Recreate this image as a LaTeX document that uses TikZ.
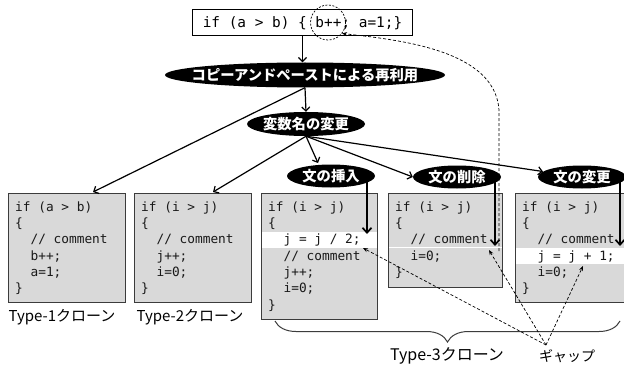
\documentclass[tikz,border=0pt]{standalone}
\usepackage{fontspec}
\setmainfont{Noto Sans CJK JP}
\setmonofont{DejaVu Sans Mono}
\usetikzlibrary{arrows.meta,shapes.geometric,decorations.pathreplacing,calc}
\definecolor{boxgray}{HTML}{D9D9D9}
\definecolor{boxedge}{HTML}{3C3C3C}
\newcommand{\ctext}[1]{\makebox[0pt]{\raisebox{-0.38em}[0pt][0pt]{#1}}}
\newcommand{\fl}{\rule{0pt}{10pt}}
\newcommand{\ii}{\hspace*{15.4pt}}
\tikzset{
  bub/.style={ellipse, fill=black, text=white, inner sep=0pt,
    font=\bfseries\fontsize{14.3}{14}\selectfont},
  cbox/.style={rectangle, fill=boxgray, inner sep=0pt, anchor=north west},
  border/.style={draw=boxedge, line width=1pt},
  code/.style={anchor=north west, inner sep=0pt, align=left, text=black!90,
    font=\ttfamily\fontsize{12.8}{16.3}\selectfont},
  conn/.style={line width=1.2pt, -{Straight Barb[length=4pt,width=8pt]}},
  tharr/.style={line width=1.7pt, -{Straight Barb[length=5pt,width=9pt]}},
  gapline/.style={dash pattern=on 3pt off 2pt, line width=0.7pt,
    -{Stealth[length=5pt,width=4pt]}},
  lbl/.style={font=\fontsize{15}{15}\selectfont, inner sep=0pt}
}
\begin{document}
\begin{tikzpicture}[x=1pt,y=-1pt]
\clip (0,0) rectangle (624,369);
\fill[white] (0,0) rectangle (624,369);

% top code line
\node[draw, line width=1pt, minimum width=220pt, minimum height=26pt, inner sep=0pt,
  font=\ttfamily\fontsize{14.4}{14}\selectfont] (top) at (302.5,23) {if (a > b) \{ b++; a=1;\}};
\node[draw, dash pattern=on 2pt off 1.5pt, line width=0.7pt, circle, minimum size=35pt, inner sep=0pt] (circ) at (328,22.5) {};

% bubbles
\node[bub, minimum width=280pt, minimum height=25pt] (cp) at (305,75) {\ctext{コピーアンドペーストによる再利用}};
\node[bub, minimum width=118pt, minimum height=24pt] (vr) at (306,124) {\ctext{変数名の変更}};
\node[bub, minimum width=88pt, minimum height=23pt] (ins) at (331,176) {\ctext{文の挿入}};
\node[bub, minimum width=88pt, minimum height=23pt] (del) at (457,177) {\ctext{文の削除}};
\node[bub, minimum width=88pt, minimum height=23pt] (chg) at (582,177) {\ctext{文の変更}};

% code boxes
\node[cbox, minimum width=117pt, minimum height=109pt] (b1) at (8,193) {};
\node[cbox, minimum width=117pt, minimum height=109pt] (b2) at (134,193) {};
\node[cbox, minimum width=116pt, minimum height=126pt] (b3) at (261,193) {};
\node[cbox, minimum width=114pt, minimum height=94pt] (b4) at (388,193) {};
\node[cbox, minimum width=117pt, minimum height=109pt] (b5) at (515,193) {};

% highlighted (changed) lines
\fill[white] (261,231.5) rectangle (377,247.8);
\fill[white] (515,247.8) rectangle (632,264.1);
\draw[white, line width=1.2pt] (388,247.8) -- (502,247.8);

\foreach \b in {b1,b2,b3,b4,b5}
  \draw[border] (\b.north west) rectangle (\b.south east);

\node[code] (c1) at (15,201) {\fl if (a > b)\\\{\\\ii // comment\\\ii b++;\\\ii a=1;\\\}};
\node[code] (c2) at (141,201) {\fl if (i > j)\\\{\\\ii // comment\\\ii j++;\\\ii i=0;\\\}};
\node[code] (c3) at (268,201) {\fl if (i > j)\\\{\\\ii j = j / 2;\\\ii // comment\\\ii j++;\\\ii i=0;\\\}};
\node[code] (c4) at (395,201) {\fl if (i > j)\\\{\\\ii // comment\\\ii i=0;\\\}};
\node[code] (c5) at (522,201) {\fl if (i > j)\\\{\\\ii // comment\\\ii j = j + 1;\\\ii i=0;\\\}};

% labels
\node[lbl] (l1) at (62,317) {Type-1クローン};
\node[lbl] (l2) at (190,317) {Type-2クローン};
\node[lbl, font=\fontsize{16}{16}\selectfont] (l3) at (447,356) {Type-3クローン};
\node[lbl, font=\fontsize{14}{14}\selectfont] (lg) at (567,356) {ギャップ};

% brace
\draw[boxedge, line width=1pt, decorate, decoration={brace, amplitude=21pt}] (620,321) -- (275,321);

% connectors
\coordinate (p1) at (93,192);
\coordinate (p2) at (213,192);
\coordinate (p3) at (318,163);
\draw[conn] (top.south) -- (top.south |- cp.north);
\draw[conn] (cp.south) -- (vr.north);
\draw[conn] (cp.south) -- (p1);
\draw[conn] (vr.south) -- (p2);
\draw[conn] (vr.south) -- (p3);
\draw[conn] (vr.south) -- (del.west);
\draw[conn] (vr.south) -- (chg.172);

% thick arrows
\coordinate (a3) at (367,234);
\coordinate (a4) at (495,246);
\coordinate (a5) at (620,246);
\draw[tharr] (ins.center -| a3) -- (a3);
\draw[tharr] (del.center -| a4) -- (a4);
\draw[tharr] (chg.center -| a5) -- (a5);

% gap lines
\coordinate (gap) at (546,345);
\coordinate (g3) at (363,248);
\coordinate (g4) at (489,250);
\coordinate (g5) at (583,266);
\coordinate (gv) at (499,251);
\draw[gapline] (gap) -- (g3);
\draw[gapline] (gap) -- (g4);
\draw[gapline] (gap) -- (g5);
\draw[gapline] (gv) -- (499,110) .. controls (495,50) and (400,40) .. (circ.-38);
\end{tikzpicture}
\end{document}
